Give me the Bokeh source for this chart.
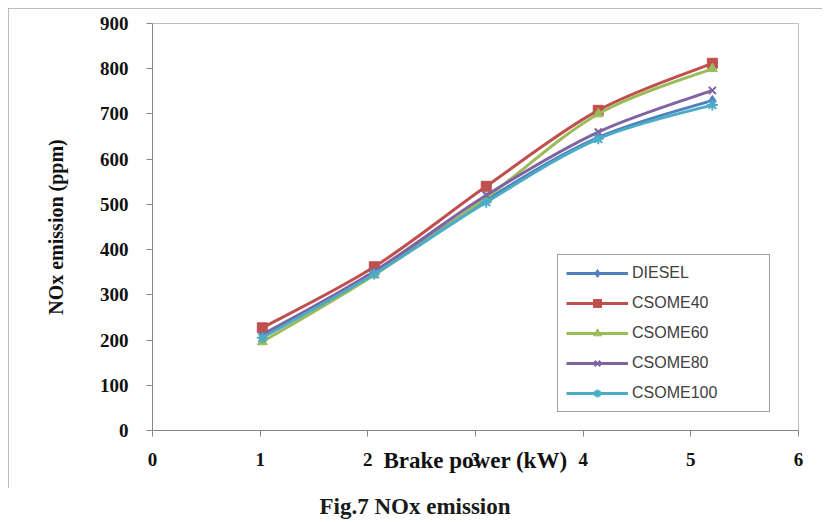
from bokeh.plotting import figure
from bokeh.models import Legend, LegendItem, FixedTicker, Div
from bokeh.layouts import column
from bokeh.embed import file_html
from bokeh.resources import INLINE

# ---- data ----
brake_power = [1.02, 2.06, 3.1, 4.14, 5.2]
diesel = [212, 350, 510, 648, 730]
csome40 = [227, 362, 540, 708, 812]
csome60 = [196, 344, 515, 700, 800]
csome80 = [210, 352, 520, 660, 752]
csome100 = [205, 346, 505, 645, 720]

series_names = ["DIESEL", "CSOME40", "CSOME60", "CSOME80", "CSOME100"]
series_values = [diesel, csome40, csome60, csome80, csome100]
series_colors = ["#4F81BD", "#C0504D", "#9BBB59", "#8064A2", "#4BACC6"]
series_markers = ["diamond", "square", "triangle", "x", "asterisk"]
marker_sizes = [10, 10, 10, 10, 11]

x_ticks = [0, 1, 2, 3, 4, 5, 6]
y_ticks = [0, 100, 200, 300, 400, 500, 600, 700, 800, 900]

x_title = "Brake power (kW)"
y_title = "NOx emission (ppm)"
caption = "Fig.7 NOx emission"

SERIF = "Liberation Serif"

p = figure(width=814, height=480, x_range=(0, 6), y_range=(0, 900),
           output_backend="svg", toolbar_location=None,
           min_border_left=144, min_border_top=15, min_border_right=24,
           min_border_bottom=58, margin=(8, 0, 0, 8))
p.styles = {"outline": "1px solid #a6a6a6", "outline-offset": "-1px"}
p.background_fill_color = "white"
p.border_fill_color = "white"
p.xgrid.visible = False
p.ygrid.visible = False
p.outline_line_color = "#bfbfbf"
p.outline_line_width = 1

for ax in (p.xaxis[0], p.yaxis[0]):
    ax.axis_line_color = "#868686"
    ax.major_tick_line_color = "#868686"
    ax.minor_tick_line_color = None
    ax.major_tick_out = 6
    ax.major_tick_in = 0
    ax.major_label_text_font = SERIF
    ax.major_label_text_font_style = "bold"
    ax.major_label_text_font_size = "19px"
    ax.major_label_text_color = "#111111"
    ax.axis_label_text_font = SERIF
    ax.axis_label_text_font_style = "bold"
    ax.axis_label_text_color = "#111111"

p.xaxis.ticker = FixedTicker(ticks=x_ticks)
p.yaxis.ticker = FixedTicker(ticks=y_ticks)
p.xaxis.major_label_standoff = 16
p.yaxis.major_label_standoff = 18
p.xaxis.axis_label = x_title
p.yaxis.axis_label = y_title
p.xaxis.axis_label_text_font_size = "23px"
p.yaxis.axis_label_text_font_size = "20px"
p.xaxis.axis_label_standoff = -21
p.yaxis.axis_label_standoff = 30


def smooth(xs, ys):
    n = len(xs)
    seg = dict(x0=[], y0=[], x1=[], y1=[], cx0=[], cy0=[], cx1=[], cy1=[])
    for i in range(n - 1):
        xa, ya = xs[i], ys[i]
        xb, yb = xs[i + 1], ys[i + 1]
        xm, ym = (xs[i - 1], ys[i - 1]) if i > 0 else (xa, ya)
        xp, yp = (xs[i + 2], ys[i + 2]) if i + 2 < n else (xb, yb)
        seg["x0"].append(xa); seg["y0"].append(ya)
        seg["x1"].append(xb); seg["y1"].append(yb)
        seg["cx0"].append(xa + (xb - xm) / 6.0)
        seg["cy0"].append(ya + (yb - ym) / 6.0)
        seg["cx1"].append(xb - (xp - xa) / 6.0)
        seg["cy1"].append(yb - (yp - ya) / 6.0)
    return seg


items = []
for name, vals, col, mk, ms in zip(series_names, series_values, series_colors,
                                   series_markers, marker_sizes):
    seg = smooth(brake_power, vals)
    p.bezier(line_color=col, line_width=3, **seg)
    lw = 2 if mk in ("x", "asterisk") else 1
    sc = p.scatter(brake_power, vals, marker=mk, size=ms, fill_color=col,
                   line_color=col, line_width=lw)
    # single-point line: draws nothing in the plot, gives the legend its line
    lg = p.line(x=brake_power[:1], y=vals[:1], line_color=col, line_width=3)
    items.append(LegendItem(label=name, renderers=[lg, sc]))

legend = Legend(items=items, location=(405, 18))
legend.padding = 8
legend.spacing = 10
legend.glyph_width = 62
legend.glyph_height = 20
legend.label_height = 20
legend.label_width = 129
legend.label_standoff = 4
legend.label_text_font = "Liberation Sans"
legend.label_text_font_size = "16px"
legend.label_text_color = "#404040"
legend.border_line_color = "#404040"
legend.border_line_width = 1
legend.background_fill_color = "white"
legend.background_fill_alpha = 1
p.add_layout(legend)

cap = Div(text=caption, width=814, height=34, margin=(0, 0, 0, 8),
          styles={"display": "flex", "justify-content": "center",
                  "align-items": "flex-end", "line-height": "30px",
                  "font-family": SERIF, "font-weight": "bold",
                  "font-size": "23px", "color": "#1a1a1a"})

layout = column(p, cap, spacing=0)
open("out.html", "w").write(file_html(layout, INLINE))
